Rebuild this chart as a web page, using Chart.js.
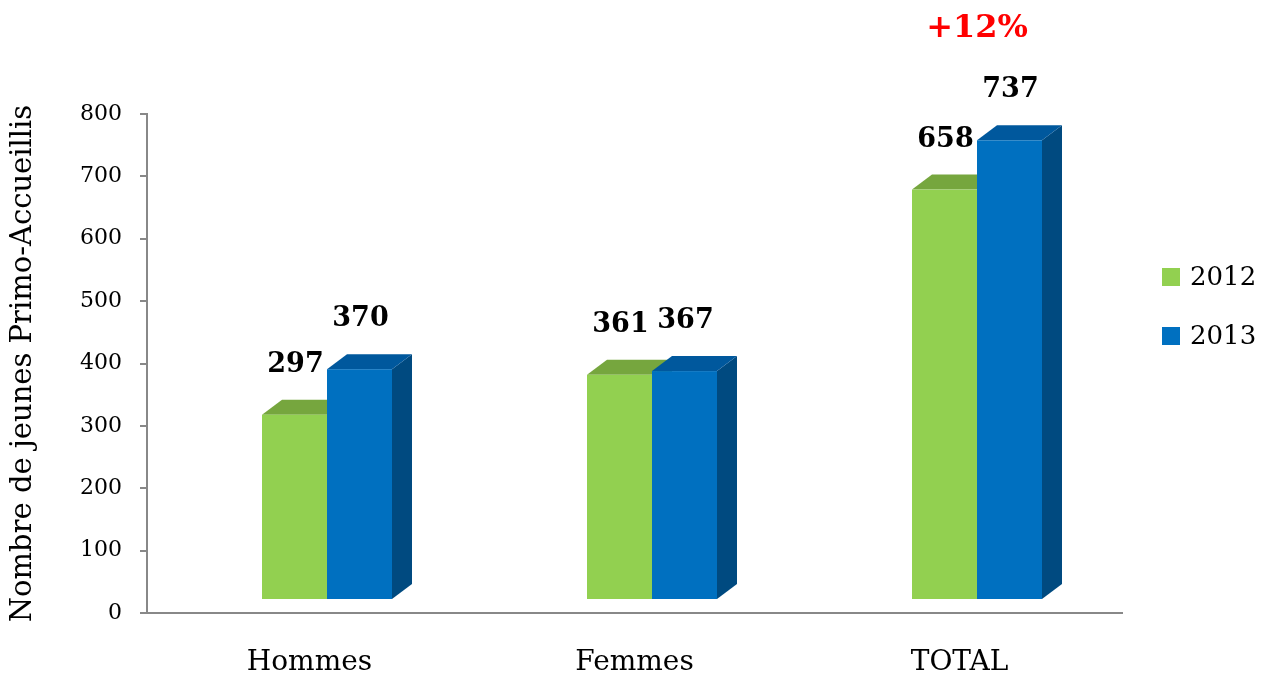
<!DOCTYPE html>
<html>
<head>
<meta charset="utf-8">
<script src="https://cdn.jsdelivr.net/npm/chart.js@4.4.1/dist/chart.umd.min.js"></script>
<style>
  html, body { margin: 0; padding: 0; background: #fff; }
</style>
</head>
<body>
<canvas id="chart" width="1270" height="679"></canvas>
<script>
const categories = ['Hommes', 'Femmes', 'TOTAL'];
const seriesNames = ['2012', '2013'];
const values2012 = [297, 361, 658];
const values2013 = [370, 367, 737];
const yTicks = [0, 100, 200, 300, 400, 500, 600, 700, 800];
const yTitle = 'Nombre de jeunes Primo-Accueillis';
const growthLabel = '+12%';

// 3D look: front face is shifted off the axis, depth goes up-right
const SHIFT_X = 17.5, SHIFT_Y = -13;
const DEPTH_X = 20, DEPTH_Y = -15;
const SERIF = '"DejaVu Serif", serif';

const bars3d = {
    id: 'bars3d',
    beforeDatasetsDraw(chart) {
        const ctx = chart.ctx;
        ctx.save();
        for (let i = 0; i < chart.data.labels.length; i++) {
            chart.data.datasets.forEach((ds, d) => {
                const el = chart.getDatasetMeta(d).data[i];
                const l = el.x - el.width / 2 + SHIFT_X;
                const r = el.x + el.width / 2 + SHIFT_X;
                const t = el.y + SHIFT_Y;
                const b = el.base + SHIFT_Y;
                ctx.fillStyle = ds.sideColor;
                ctx.beginPath();
                ctx.moveTo(r, t);
                ctx.lineTo(r + DEPTH_X, t + DEPTH_Y);
                ctx.lineTo(r + DEPTH_X, b + DEPTH_Y);
                ctx.lineTo(r, b);
                ctx.closePath();
                ctx.fill();
                ctx.fillStyle = ds.topColor;
                ctx.beginPath();
                ctx.moveTo(l, t);
                ctx.lineTo(l + DEPTH_X, t + DEPTH_Y);
                ctx.lineTo(r + DEPTH_X, t + DEPTH_Y);
                ctx.lineTo(r, t);
                ctx.closePath();
                ctx.fill();
                ctx.fillStyle = ds.backgroundColor;
                ctx.fillRect(l, t, r - l, b - t);
            });
        }
        ctx.restore();
        return false;
    },
    afterDraw(chart) {
        const ctx = chart.ctx;
        ctx.save();
        // value labels
        ctx.font = 'bold 27px ' + SERIF;
        ctx.fillStyle = '#000';
        ctx.textAlign = 'center';
        ctx.textBaseline = 'middle';
        chart.data.datasets.forEach((ds, d) => {
            chart.getDatasetMeta(d).data.forEach((el, i) => {
                ctx.fillText(String(ds.data[i]), el.x + SHIFT_X + 1, el.y + SHIFT_Y - 50);
            });
        });
        // growth note above TOTAL
        const xs = chart.scales.x;
        ctx.font = 'bold 32px ' + SERIF;
        ctx.fillStyle = '#ff0000';
        ctx.fillText(growthLabel, xs.getPixelForValue(2) + SHIFT_X, 29);
        // legend
        ctx.font = '26px ' + SERIF;
        ctx.textAlign = 'left';
        chart.data.datasets.forEach((ds, d) => {
            const y = 268 + d * 59;
            ctx.fillStyle = ds.backgroundColor;
            ctx.fillRect(1162, y, 18, 18);
            ctx.fillStyle = '#000';
            ctx.fillText(ds.label, 1190, y + 10);
        });
        ctx.restore();
    }
};

new Chart(document.getElementById('chart'), {
    type: 'bar',
    data: {
        labels: categories,
        datasets: [{
            label: seriesNames[0],
            data: values2012,
            backgroundColor: '#92d050',
            topColor: '#76a63e',
            sideColor: '#6a9637',
        }, {
            label: seriesNames[1],
            data: values2013,
            backgroundColor: '#0070c0',
            topColor: '#00589d',
            sideColor: '#004a80',
        }]
    },
    options: {
        responsive: false,
        animation: false,
        layout: { padding: { top: 114, right: 148, bottom: 0, left: 0 } },
        categoryPercentage: 0.4,
        barPercentage: 1,
        plugins: {
            legend: { display: false },
            tooltip: { enabled: false }
        },
        scales: {
            x: {
                grid: { display: false, drawTicks: false },
                border: { display: true, color: '#888', width: 2 },
                ticks: { color: '#000', font: { family: SERIF, size: 28 }, padding: 33 },
                afterFit: s => { s.height = 66; }
            },
            y: {
                min: 0,
                max: 800,
                afterBuildTicks: s => { s.ticks = yTicks.map(v => ({ value: v })); },
                grid: { drawOnChartArea: false, drawTicks: true, tickLength: 7, color: '#888', lineWidth: 2 },
                border: { display: true, color: '#888', width: 2 },
                ticks: { color: '#000', font: { family: SERIF, size: 22 }, padding: 18 },
                title: {
                    display: true,
                    text: yTitle,
                    color: '#000',
                    font: { family: SERIF, size: 29 },
                    padding: { top: 6, bottom: 0 }
                },
                afterFit: s => { s.width = 147; }
            }
        }
    },
    plugins: [bars3d]
});
</script>
</body>
</html>
